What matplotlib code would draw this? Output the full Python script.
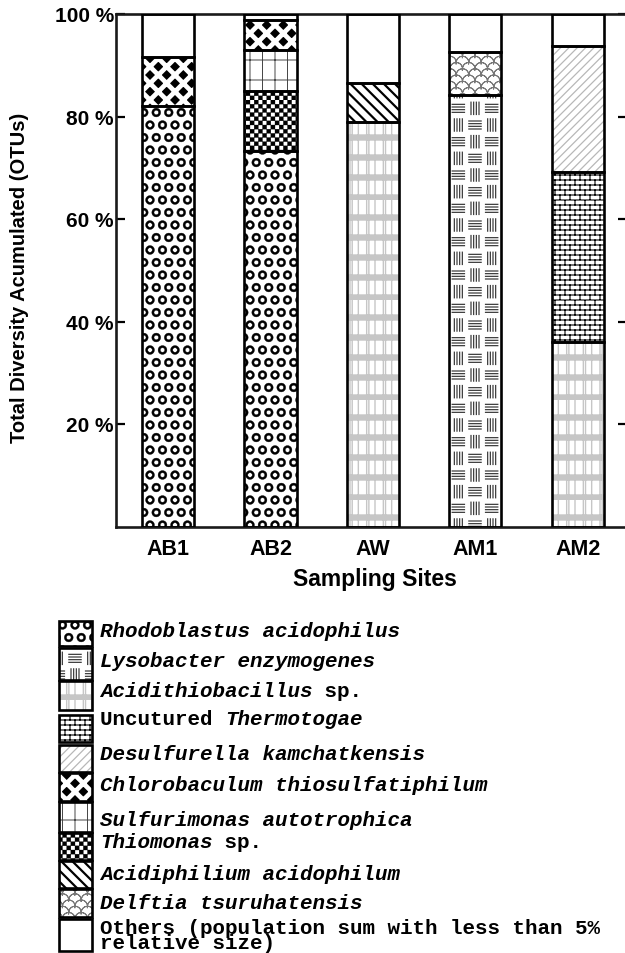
import numpy as np
import matplotlib
matplotlib.use("Agg")
import matplotlib.pyplot as plt
import matplotlib.hatch as mhatch
from matplotlib.path import Path
from matplotlib.patches import Rectangle

# ---------------- data ----------------
sites = ["AB1", "AB2", "AW", "AM1", "AM2"]
# segment sizes (% of OTUs), stacked bottom -> top in this order
rhodoblastus = [82.1, 73.2, 0, 0, 0]
lysobacter = [0, 0, 0, 84.1, 0]
acidithiobacillus = [0, 0, 79.0, 0, 36.0]
thermotogae = [0, 0, 0, 0, 33.1]
desulfurella = [0, 0, 0, 0, 24.7]
thiomonas = [0, 11.8, 0, 0, 0]
sulfurimonas = [0, 8.0, 0, 0, 0]
chlorobaculum = [9.6, 5.9, 0, 0, 0]
acidiphilium = [0, 0, 7.6, 0, 0]
delftia = [0, 0, 0, 8.5, 0]
others = [8.3, 1.1, 13.4, 7.4, 6.2]
yticks = [20, 40, 60, 80, 100]
ytick_labels = ["20 %", "40 %", "60 %", "80 %", "100 %"]

# ---------------- custom hatch patterns ----------------
def _lines(segs):
    v, c = [], []
    for (x0, y0), (x1, y1) in segs:
        v += [(x0, y0), (x1, y1)]
        c += [Path.MOVETO, Path.LINETO]
    return v, c

def _zero_area(pts):
    pts = np.asarray(pts, float)
    full = np.concatenate([pts, pts[-2::-1]])
    c = [Path.MOVETO] + [Path.LINETO] * (len(full) - 1)
    return [tuple(p) for p in full], c

def _closed(pts):
    pts = [tuple(p) for p in pts] + [tuple(pts[0])]
    c = [Path.MOVETO] + [Path.LINETO] * (len(pts) - 2) + [Path.CLOSEPOLY]
    return pts, c

def _rect(x0, y0, x1, y1):
    return _closed([(x0, y0), (x1, y0), (x1, y1), (x0, y1)])

def _build_circles():
    n = 8
    off = 1.0 / n
    ro, ri = 0.044, 0.023
    t = np.linspace(0, 2 * np.pi, 28, endpoint=False)
    V, C = [], []
    for row in range(n + 1):
        cols = np.linspace(0, 1, n + 1) if row % 2 == 0 else np.linspace(off / 2, 1 - off / 2, n)
        for cx in cols:
            cy = row * off
            v, c = _closed(np.c_[cx + ro * np.cos(t), cy + ro * np.sin(t)])
            V += v; C += c
            v, c = _closed(np.c_[cx + ri * np.cos(t[::-1]), cy + ri * np.sin(t[::-1])])
            V += v; C += c
    return V, C

def _build_brick():
    rows, cols = 20, 10
    segs = []
    for k in range(rows + 1):
        segs.append(((0, k / rows), (1, k / rows)))
    for k in range(rows):
        shift = 0.5 / cols if k % 2 else 0
        for j in range(cols + 1):
            xx = j / cols + shift
            if xx <= 1:
                segs.append(((xx, k / rows), (xx, (k + 1) / rows)))
    return _lines(segs)

def _build_basket():
    n = 6
    s = 1.0 / n
    segs = []
    for i in range(n):
        for j in range(n):
            cx, cy = (i + 0.5) * s, (j + 0.5) * s
            half = 0.37 * s
            for d in (-0.24, -0.08, 0.08, 0.24):
                if (i + j) % 2 == 0:
                    segs.append(((cx - half, cy + d * s), (cx + half, cy + d * s)))
                else:
                    segs.append(((cx + d * s, cy - half), (cx + d * s, cy + half)))
    return _lines(segs)

def _build_checker():
    n = 24
    s = 1.0 / n
    V, C = [], []
    for i in range(n):
        for j in range(n):
            if (i + j) % 2 == 0:
                v, c = _rect(i * s, j * s, (i + 1) * s, (j + 1) * s)
                V += v; C += c
    return V, C

def _build_bands():
    n = 5
    bh = 0.05
    V, C = [], []
    for k in range(n):
        y0 = k / n
        v, c = _rect(0, y0, 1, y0 + bh)
        V += v; C += c
    segs = []
    for k in range(n):
        for j in range(6):
            for xx in (j / 6, j / 6 + 0.022, j / 6 + 1 / 12):
                segs.append(((xx, k / n + bh), (xx, (k + 1) / n)))
        segs.append(((1, k / n + bh), (1, (k + 1) / n)))
    v, c = _lines(segs)
    return V + v, C + c

def _build_grid():
    segs = [((j / 8, 0), (j / 8, 1)) for j in range(9)]
    segs += [((0, k / 5), (1, k / 5)) for k in range(6)]
    return _lines(segs)

def _diag_lines(n, sign):
    steps = np.linspace(0, 2, 2 * n + 1)
    if sign < 0:   # "\"
        return [((s - 1, 1), (s, 0)) for s in steps]
    return [((s - 1, 0), (s, 1)) for s in steps]   # "/"

def _build_back():
    return _lines(_diag_lines(9, -1))

def _build_fwd():
    return _lines(_diag_lines(12, +1))

def _build_weave():
    return _lines(_diag_lines(6, +1) + _diag_lines(6, -1))

def _build_scales():
    nx, ny = 8, 16
    r = 0.5 / nx
    t = np.linspace(0, np.pi, 15)
    V, C = [], []
    for k in range(-1, ny + 2):
        cy = k / ny
        shift = (0.5 / nx) if k % 2 else 0
        for j in range(-1, nx + 2):
            cx = j / nx + shift
            v, c = _zero_area(np.c_[cx + r * np.cos(t), cy + r * np.sin(t)])
            V += v; C += c
    return V, C

_BUILDERS = {'q': _build_circles, 'b': _build_brick, 'k': _build_basket,
             'c': _build_checker, 'a': _build_bands, 'g': _build_grid,
             'd': _build_back, 'n': _build_fwd, 'w': _build_weave,
             's': _build_scales}

def _make_cls(ch, fn):
    class _Pat(mhatch.HatchPatternBase):
        def __init__(self, hatch, density):
            if ch in hatch:
                v, c = fn()
                self._v = np.asarray(v, float)
                self._c = np.asarray(c, dtype=Path.code_type)
            else:
                self._v = np.empty((0, 2))
                self._c = np.empty(0, dtype=Path.code_type)
            self.num_vertices = len(self._v)

        def set_vertices_and_codes(self, vertices, codes):
            vertices[:] = self._v
            codes[:] = self._c
    return _Pat

for _ch, _fn in _BUILDERS.items():
    mhatch._hatch_types.append(_make_cls(_ch, _fn))
mhatch._validate_hatch_pattern = lambda h: None

# style per taxon: face, hatch, hatch colour, hatch linewidth
styles = {
    "rhodoblastus": ("white", "q", "black", 0.3),
    "lysobacter": ("white", "k", "#333333", 0.85),
    "acidithiobacillus": ("white", "a", "#c6c6c6", 1.0),
    "thermotogae": ("white", "b", "black", 0.8),
    "desulfurella": ("white", "n", "#b8b8b8", 0.9),
    "thiomonas": ("white", "c", "black", 0.2),
    "sulfurimonas": ("white", "g", "#444444", 0.7),
    "chlorobaculum": ("black", "w", "white", 3.4),
    "acidiphilium": ("white", "d", "black", 1.6),
    "delftia": ("white", "s", "#777777", 0.7),
    "others": ("white", None, "white", 1.0),
}

stack = [("rhodoblastus", rhodoblastus), ("lysobacter", lysobacter),
         ("acidithiobacillus", acidithiobacillus), ("thermotogae", thermotogae),
         ("desulfurella", desulfurella), ("thiomonas", thiomonas),
         ("sulfurimonas", sulfurimonas), ("chlorobaculum", chlorobaculum),
         ("acidiphilium", acidiphilium), ("delftia", delftia), ("others", others)]

def styled(artists, key):
    face, hatch, hc, lw = styles[key]
    for a in artists:
        if hasattr(a, "set_hatch_linewidth"):
            a.set_hatch_linewidth(lw)

# ---------------- figure ----------------
W, H = 625, 954
fig = plt.figure(figsize=(W / 100, H / 100), dpi=100)
left_px, right_px, top_px, bot_px = 116, 627, 15, 527.5
ax = fig.add_axes([left_px / W, 1 - bot_px / H, (right_px - left_px) / W, (bot_px - top_px) / H])

x = np.arange(len(sites))
width = 0.508
bottom = np.zeros(len(sites))
for key, vals in stack:
    vals = np.asarray(vals, float)
    m = vals > 0
    face, hatch, hc, lw = styles[key]
    with plt.rc_context({'hatch.linewidth': lw}):
        bars = ax.bar(x[m], vals[m], width, bottom=bottom[m], color=face,
                      edgecolor=hc, hatch=hatch, linewidth=0, zorder=2)
    styled(bars, key)
    ax.bar(x[m], vals[m], width, bottom=bottom[m], fill=False,
           edgecolor="black", linewidth=1.9, zorder=3)
    bottom += vals

ax.set_xlim(-0.508, 4.48)
ax.set_ylim(0, 100)
ax.set_yticks(yticks)
ax.set_yticklabels(ytick_labels)
ax.set_xticks(x)
ax.set_xticklabels(sites)
for s in ax.spines.values():
    s.set_linewidth(1.9)
    s.set_color("#1a1a1a")

sansfont = "Liberation Sans"
ax.tick_params(axis="y", direction="in", length=6.5, width=1.6, pad=1.5,
               right=True, labelsize=15)
ax.tick_params(axis="x", length=0, pad=8, labelsize=15.5)
for lab in ax.get_xticklabels() + ax.get_yticklabels():
    lab.set_fontfamily(sansfont)
    lab.set_fontweight("bold")

ax.set_xlabel("Sampling Sites", fontsize=16.5, fontweight="bold", family=sansfont)
ax.xaxis.set_label_coords((375 - left_px) / (right_px - left_px), (bot_px - 568) / (bot_px - top_px))
ax.set_ylabel("Total Diversity Acumulated (OTUs)", fontsize=14.5, fontweight="bold", family=sansfont)
ax.yaxis.set_label_coords((29 - left_px) / (right_px - left_px), (bot_px - 278) / (bot_px - top_px))

# ---------------- legend (manual, pixel layout) ----------------
lax = fig.add_axes([0, 0, 1, 1])
lax.set_xlim(0, W)
lax.set_ylim(H, 0)
lax.axis("off")

legend_entries = [
    ("rhodoblastus", [("Rhodoblastus acidophilus", True)]),
    ("lysobacter", [("Lysobacter enzymogenes", True)]),
    ("acidithiobacillus", [("Acidithiobacillus", True), (" sp.", False)]),
    ("thermotogae", [("Uncutured ", False), ("Thermotogae", True)]),
    ("desulfurella", [("Desulfurella kamchatkensis", True)]),
    ("chlorobaculum", [("Chlorobaculum thiosulfatiphilum", True)]),
    ("sulfurimonas", [("Sulfurimonas autotrophica", True)]),
    ("thiomonas", [("Thiomonas", True), (" sp.", False)]),
    ("acidiphilium", [("Acidiphilium acidophilum", True)]),
    ("delftia", [("Delftia tsuruhatensis", True)]),
    ("others", [("Others (population sum with less than 5%\nrelative size)", False)]),
]
box_y = [(622, 647), (649, 681), (682, 711), (716, 743), (746, 773), (774, 802),
         (803, 833), (834, 861), (862, 889), (890, 918), (920, 952)]
text_y = [632, 662, 692, 720, 755, 786, 821, 843, 875, 904, 936]
char_w = 12.5
monofont = "Liberation Mono"
for (key, parts), (y0, y1), ty in zip(legend_entries, box_y, text_y):
    face, hatch, hc, lw = styles[key]
    with plt.rc_context({'hatch.linewidth': lw}):
        r = Rectangle((59, y0), 33, y1 - y0, facecolor=face, edgecolor=hc,
                      hatch=hatch, linewidth=0)
    styled([r], key)
    lax.add_patch(r)
    lax.add_patch(Rectangle((59, y0), 33, y1 - y0, fill=False, edgecolor="black", linewidth=1.9))
    tx = 100
    for txt, it in parts:
        lax.text(tx, ty, txt, family=monofont, fontsize=15, fontweight="bold",
                 style="italic" if it else "normal", va="center", ha="left",
                 linespacing=0.78)
        tx += len(txt) * char_w

fig.savefig("out.png", dpi=100)
